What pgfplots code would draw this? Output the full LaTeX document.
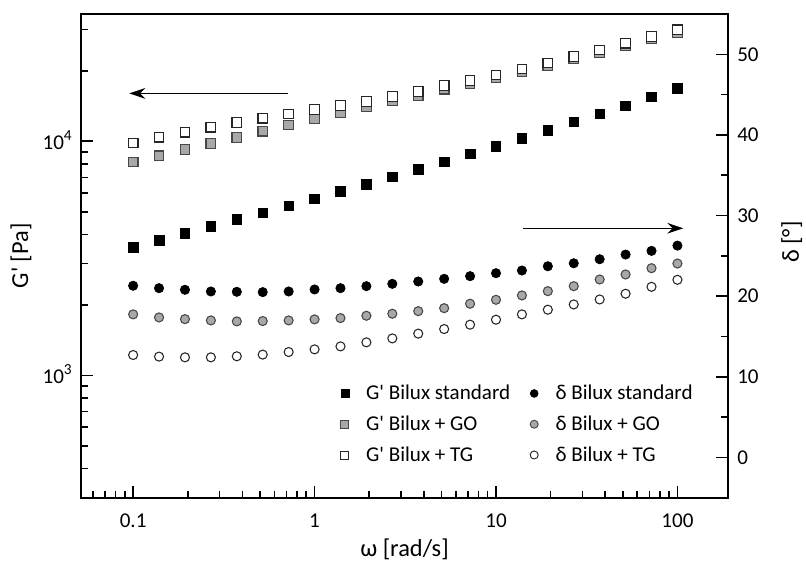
\documentclass[border=0pt]{standalone}
\usepackage{fontspec}
\setmainfont{Carlito}
\usepackage{pgfplots}
\usepackage{pgfplotstable}
\pgfplotsset{compat=1.18}
\usetikzlibrary{arrows.meta}

\newcommand{\fsz}{\fontsize{15.8}{19}\selectfont}
\newcommand{\lsz}{\fontsize{18.3}{22}\selectfont}
\newcommand{\pw}[1]{10\raisebox{0.42em}{\fontsize{11.5}{12}\selectfont #1}}
\newcommand{\Gp}{G\textquotesingle}

\definecolor{markgray}{gray}{0.66}
\definecolor{edgegray}{gray}{0.28}

% frequency sweep: omega [rad/s], storage modulus G' [Pa], phase angle delta [deg]
\pgfplotstableread{
w       Gstd   GGO    GTG    dstd   dGO    dTG
0.1     3532   8150   9840   21.29  17.74  12.70
0.13895 3768   8670   10410  20.99  17.36  12.50
0.19307 4036   9220   10930  20.79  17.15  12.41
0.26827 4325   9780   11490  20.58  16.99  12.41
0.37276 4629   10370  12020  20.54  16.87  12.54
0.51795 4944   11050  12540  20.50  16.91  12.75
0.71969 5297   11740  13080  20.58  16.99  13.07
1       5675   12500  13700  20.83  17.12  13.40
1.3895  6100   13250  14250  20.99  17.28  13.77
1.9307  6549   14010  14790  21.24  17.57  14.27
2.6827  7060   14900  15570  21.53  17.82  14.76
3.7276  7586   15680  16310  21.82  18.14  15.35
5.1795  8170   16710  17290  22.15  18.51  15.92
7.1969  8834   17600  18160  22.48  19.06  16.46
10      9526   18650  19200  22.85  19.55  17.08
13.895  10310  19780  20370  23.18  20.09  17.74
19.307  11140  21020  21600  23.71  20.62  18.32
26.827  12100  22460  23050  24.08  21.24  18.97
37.276  13120  23940  24540  24.58  22.07  19.59
51.795  14200  25640  26280  25.16  22.69  20.30
71.969  15490  27350  28040  25.62  23.47  21.16
100     16870  29210  29940  26.27  24.05  22.03
}\rheo

\begin{document}
\begin{tikzpicture}
\path[use as bounding box] (-60.75pt,-54.225pt) rectangle (543.75pt,373.275pt);

% left axis: storage modulus
\begin{axis}[
  scale only axis,
  width=485.25pt, height=362.775pt,
  at={(0pt,0pt)}, anchor=south west,
  xmode=log, ymode=log,
  xmin=0.0516, xmax=190, ymin=300, ymax=35000,
  tick align=inside,
  major tick length=9pt, minor tick length=5pt,
  tick style={line width=1.2pt, black},
  axis line style={line width=1.5pt},
  tick label style={font=\fsz},
  label style={font=\lsz},
  xtick={0.1,1,10,100}, xticklabels={0.1,1,10,100},
  minor xtick={0.06,0.07,0.08,0.09,0.2,0.3,0.4,0.5,0.6,0.7,0.8,0.9,
               2,3,4,5,6,7,8,9,20,30,40,50,60,70,80,90},
  ytick={1000,10000}, yticklabels={\pw{3},\pw{4}},
  minor ytick={400,500,600,700,800,900,2000,3000,4000,5000,6000,7000,8000,9000,20000,30000},
  xtick pos=left, ytick pos=left,
  xticklabel style={anchor=center, yshift=-17.5pt},
  yticklabel style={anchor=base east, inner sep=0pt, xshift=-6.75pt, yshift=-6pt},
  xlabel={ω [rad/s]},
  xlabel style={at={(rel axis cs:0.5,-0.106)}, anchor=center},
  ylabel={\Gp{} [Pa]},
  ylabel style={at={(rel axis cs:-0.0927,0.5)}, anchor=center},
]
\addplot[only marks, mark=square*, mark size=3.6pt,
  mark options={fill=black, draw=black, line width=0.5pt}]
  table[x=w, y=Gstd] {\rheo};
\addplot[only marks, mark=square*, mark size=3.6pt,
  mark options={fill=markgray, draw=edgegray, line width=0.9pt}]
  table[x=w, y=GGO] {\rheo};
\addplot[only marks, mark=square*, mark size=3.6pt,
  mark options={fill=white, draw=black!85, line width=0.9pt}]
  table[x=w, y=GTG] {\rheo};
\draw[line width=1pt, -{Stealth[length=12pt, width=8pt, inset=4pt]}]
  (axis cs:0.718,16020) -- (axis cs:0.0952,16020);
\end{axis}

% right axis: phase angle
\begin{axis}[
  scale only axis,
  width=485.25pt, height=362.775pt,
  at={(0pt,0pt)}, anchor=south west,
  xmode=log, xmin=0.0516, xmax=190,
  ymin=-5, ymax=55,
  axis x line=none, axis y line*=right,
  tick align=inside,
  major tick length=9pt, minor tick length=5pt,
  tick style={line width=1.2pt, black},
  axis line style={line width=1.5pt},
  tick label style={font=\fsz},
  label style={font=\lsz},
  ytick={0,10,20,30,40,50}, yticklabels={0,10,20,30,40,50},
  minor ytick={5,15,25,35,45},
  yticklabel style={anchor=west, inner sep=0pt, xshift=6.75pt},
  ylabel={δ [°]},
  ylabel style={at={(rel axis cs:1.0985,0.5286)}, anchor=center},
  legend columns=2,
  legend cell align=left,
  legend style={at={(rel axis cs:0.395,0.236)}, anchor=north west,
    draw=none, fill=none, font=\fsz, inner sep=0pt,
    row sep=8.6pt,
    nodes={inner xsep=0pt, inner ysep=1pt},
    /tikz/every even column/.append style={column sep=12pt}},
  legend image code/.code={%
    \path[draw=none, fill=none] (0pt,-3pt) rectangle (22pt,3pt);
    \draw[#1] plot coordinates {(6pt,0pt)};},
]
\addlegendimage{only marks, mark=square*, mark size=3pt, mark options={fill=black, draw=black, line width=0.4pt}}
\addlegendentry{\Gp{} Bilux standard}
\addlegendimage{only marks, mark=*, mark size=3pt, mark options={fill=black, draw=black, line width=0.4pt}}
\addlegendentry{δ Bilux standard}
\addlegendimage{only marks, mark=square*, mark size=3pt, mark options={fill=markgray, draw=edgegray, line width=0.7pt}}
\addlegendentry{\Gp{} Bilux + GO}
\addlegendimage{only marks, mark=*, mark size=3pt, mark options={fill=markgray, draw=edgegray, line width=0.7pt}}
\addlegendentry{δ Bilux + GO}
\addlegendimage{only marks, mark=square*, mark size=3pt, mark options={fill=white, draw=black!85, line width=0.7pt}}
\addlegendentry{\Gp{} Bilux + TG}
\addlegendimage{only marks, mark=*, mark size=3pt, mark options={fill=white, draw=black!85, line width=0.7pt}}
\addlegendentry{δ Bilux + TG}

\addplot[only marks, mark=*, mark size=3.5pt, forget plot,
  mark options={fill=black, draw=black, line width=0.5pt}]
  table[x=w, y=dstd] {\rheo};
\addplot[only marks, mark=*, mark size=3.4pt, forget plot,
  mark options={fill=markgray, draw=edgegray, line width=0.8pt}]
  table[x=w, y=dGO] {\rheo};
\addplot[only marks, mark=*, mark size=3.4pt, forget plot,
  mark options={fill=white, draw=black!85, line width=0.8pt}]
  table[x=w, y=dTG] {\rheo};
\draw[line width=1pt, -{Stealth[length=12pt, width=8pt, inset=4pt]}]
  (axis cs:14.1,28.42) -- (axis cs:107.7,28.42);
\end{axis}
\end{tikzpicture}
\end{document}
